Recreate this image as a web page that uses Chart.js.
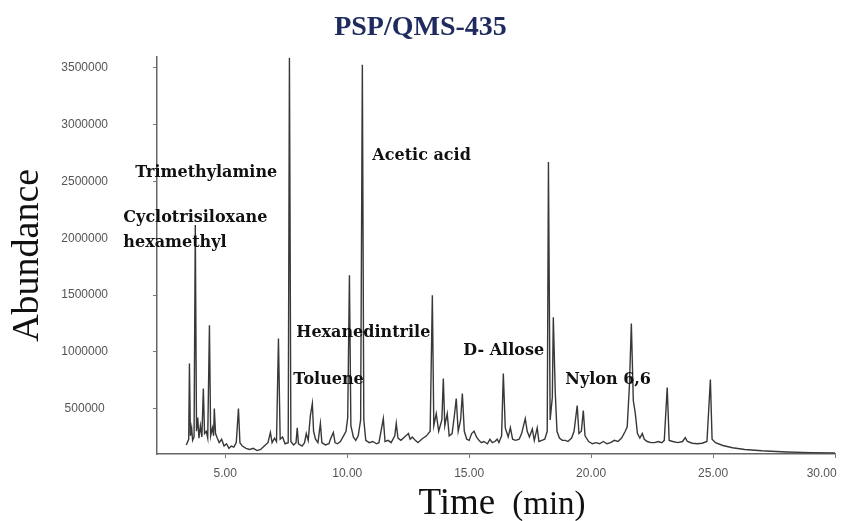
<!DOCTYPE html>
<html>
<head>
<meta charset="utf-8">
<script src="https://cdn.jsdelivr.net/npm/chart.js@4.4.1/dist/chart.umd.min.js"></script>
<style>
  html, body { margin: 0; padding: 0; background: #ffffff; }
  #wrap { width: 841px; height: 521px; }
</style>
</head>
<body>
<div id="wrap"><canvas id="c" width="841" height="521"></canvas></div>
<script>
// ---- Data (retention time in min, abundance) ----
const retentionTime = [
  3.40,3.50,3.53,3.57,3.62,3.66,3.72,3.77,3.82,3.87,
  3.92,3.98,4.04,4.10,4.15,4.22,4.28,4.35,4.40,4.47,
  4.52,4.55,4.60,4.67,4.75,4.85,4.95,5.05,5.15,5.25,
  5.35,5.45,5.54,5.60,5.70,5.85,6.00,6.15,6.30,6.45,
  6.60,6.75,6.85,6.92,7.02,7.10,7.18,7.25,7.35,7.45,
  7.58,7.63,7.69,7.80,7.90,7.95,8.00,8.15,8.25,8.32,
  8.40,8.49,8.57,8.62,8.70,8.80,8.90,8.96,9.10,9.25,
  9.31,9.43,9.50,9.60,9.72,9.85,9.95,10.02,10.09,10.15,
  10.25,10.35,10.45,10.55,10.62,10.68,10.76,10.90,11.05,11.20,
  11.30,11.48,11.55,11.68,11.80,11.95,12.01,12.08,12.20,12.35,
  12.51,12.58,12.67,12.79,12.90,13.05,13.25,13.40,13.49,13.55,
  13.65,13.75,13.88,13.94,14.00,14.10,14.18,14.30,14.40,14.47,
  14.55,14.65,14.72,14.80,14.90,15.00,15.10,15.20,15.30,15.40,
  15.50,15.60,15.75,15.85,15.95,16.05,16.15,16.22,16.33,16.40,
  16.48,16.60,16.69,16.78,16.90,17.05,17.15,17.30,17.38,17.47,
  17.59,17.67,17.79,17.86,17.98,18.10,18.20,18.25,18.32,18.41,
  18.45,18.53,18.60,18.70,18.82,18.95,19.05,19.20,19.30,19.43,
  19.50,19.60,19.68,19.75,19.90,20.05,20.20,20.35,20.50,20.65,
  20.80,20.95,21.10,21.25,21.40,21.48,21.57,21.65,21.73,21.81,
  21.90,22.00,22.10,22.18,22.30,22.45,22.60,22.75,22.90,23.00,
  23.12,23.20,23.35,23.55,23.75,23.86,23.95,24.15,24.35,24.55,
  24.75,24.89,24.96,25.10,25.40,25.80,26.30,27.00,28.00,29.00,30.00
];
const abundance = [
  180000,230000,898000,260000,330000,220000,250000,2116000,300000,420000,
  240000,350000,250000,677000,280000,300000,240000,1233000,260000,330000,
  260000,500000,280000,240000,200000,230000,170000,190000,150000,170000,
  160000,200000,500000,200000,170000,150000,140000,150000,130000,140000,
  170000,200000,290000,200000,240000,210000,1118000,230000,250000,190000,
  200000,3590000,210000,180000,200000,330000,190000,170000,200000,280000,
  220000,440000,545000,300000,230000,200000,370000,200000,180000,190000,
  230000,290000,200000,190000,210000,260000,300000,420000,1674000,350000,
  250000,220000,260000,400000,3528000,400000,220000,200000,210000,190000,
  200000,412000,210000,220000,200000,260000,370000,240000,220000,250000,
  280000,230000,250000,220000,200000,230000,260000,300000,1498000,350000,
  456000,300000,400000,765000,350000,456000,260000,280000,450000,589000,
  300000,400000,633000,300000,230000,220000,280000,300000,250000,220000,
  200000,210000,190000,230000,200000,210000,230000,200000,260000,809000,
  330000,250000,333000,230000,220000,230000,280000,412000,300000,250000,
  320000,220000,330000,210000,220000,230000,300000,2672000,400000,600000,
  1304000,642000,300000,240000,220000,220000,210000,240000,300000,527000,
  280000,300000,483000,260000,210000,190000,200000,190000,210000,190000,
  200000,220000,210000,240000,300000,340000,700000,1250000,571000,460000,
  280000,240000,280000,230000,210000,200000,200000,210000,200000,220000,
  686000,220000,210000,200000,210000,244000,210000,195000,190000,195000,
  210000,756000,230000,200000,175000,155000,140000,128000,118000,112000,110000
];
const xTickValues = [5, 10, 15, 20, 25, 30];
const yTickValues = [500000, 1000000, 1500000, 2000000, 2500000, 3000000, 3500000];

// Peak annotations: text, anchor time (min), anchor abundance
const peakLabels = ["Trimethylamine", "Cyclotrisiloxane", "hexamethyl", "Acetic acid",
                    "Hexanedintrile", "Toluene", "D- Allose", "Nylon 6,6"];
const peakLabelTime = [1.31, 0.82, 0.82, 11.03, 7.91, 7.79, 14.76, 18.94];
const peakLabelAbundance = [2575000, 2177000, 1957000, 2725000, 1171000, 756000, 1012000, 756000];

const chartTitle = "PSP/QMS-435";
const yAxisTitle = "Abundance";
const xAxisTitleMain = "Time";
const xAxisTitleUnit = "(min)";

const points = retentionTime.map((t, i) => ({ x: t, y: abundance[i] }));

const annotationPlugin = {
  id: 'annotations',
  afterDatasetsDraw(chart) {
    const { ctx, scales } = chart;
    const xs = scales.x, ys = scales.y;
    ctx.save();
    ctx.fillStyle = '#111111';
    ctx.font = 'bold 16px "DejaVu Serif"';
    ctx.textAlign = 'left';
    ctx.textBaseline = 'middle';
    peakLabels.forEach((txt, i) => {
      ctx.fillText(txt, xs.getPixelForValue(peakLabelTime[i]), ys.getPixelForValue(peakLabelAbundance[i]));
    });
    ctx.restore();
  },
  afterDraw(chart) {
    const { ctx } = chart;
    ctx.save();
    ctx.fillStyle = '#111111';
    ctx.textBaseline = 'alphabetic';
    ctx.textAlign = 'left';
    const f1 = '37px "Liberation Serif"';
    const f2 = '33px "Liberation Serif"';
    ctx.font = f1;
    const w1 = ctx.measureText(xAxisTitleMain).width;
    ctx.font = f2;
    const w2 = ctx.measureText(xAxisTitleUnit).width;
    const gap = 17;
    const total = w1 + gap + w2;
    const cx = 502;
    const x0 = cx - total / 2;
    const baseY = 514;
    ctx.font = f1;
    ctx.fillText(xAxisTitleMain, x0, baseY);
    ctx.font = f2;
    ctx.fillText(xAxisTitleUnit, x0 + w1 + gap, baseY);
    ctx.restore();
  }
};

new Chart(document.getElementById('c'), {
  type: 'scatter',
  data: {
    datasets: [{
      data: points,
      showLine: true,
      borderColor: '#383838',
      borderWidth: 1.4,
      pointRadius: 0,
      tension: 0,
      fill: false
    }]
  },
  options: {
    responsive: false,
    devicePixelRatio: 1,
    animation: false,
    layout: { padding: { left: 0, right: 0, top: 0, bottom: 0 } },
    plugins: {
      legend: { display: false },
      tooltip: { enabled: false },
      title: {
        display: true,
        text: chartTitle,
        color: '#1f2b5e',
        font: { family: '"Liberation Serif"', size: 28, weight: 'bold' },
        padding: { top: 11, bottom: 12 }
      }
    },
    scales: {
      x: {
        type: 'linear',
        min: 2.2,
        max: 30,
        afterBuildTicks(scale) { scale.ticks = xTickValues.map(v => ({ value: v })); },
        afterFit(scale) { scale.height = 67; scale.paddingRight = 6; scale.paddingLeft = 0; },
        ticks: {
          color: '#555555',
          font: { family: '"Liberation Sans"', size: 12 },
          padding: 8,
          maxRotation: 0,
          autoSkip: false,
          callback(v) {
            const s = Number(v).toFixed(2);
            return v === 30 ? s + '        ' : s;
          }
        },
        grid: { display: true, drawOnChartArea: false, drawTicks: true, tickLength: 4, color: '#777777' },
        border: { display: true, color: '#666666', width: 1.5 }
      },
      y: {
        type: 'linear',
        min: 100000,
        max: 3600000,
        afterBuildTicks(scale) { scale.ticks = yTickValues.map(v => ({ value: v })); },
        afterFit(scale) { scale.width = 157; },
        ticks: {
          color: '#555555',
          font: { family: '"Liberation Sans"', size: 12 },
          padding: 45,
          crossAlign: 'center',
          autoSkip: false,
          callback(v) { return String(v); }
        },
        title: {
          display: true,
          text: yAxisTitle,
          color: '#111111',
          font: { family: '"Liberation Serif"', size: 38, weight: 'normal' },
          padding: { top: 5, bottom: 0 }
        },
        grid: { display: true, drawOnChartArea: false, drawTicks: true, tickLength: 4, color: '#777777' },
        border: { display: true, color: '#666666', width: 1.5 }
      }
    }
  },
  plugins: [annotationPlugin]
});
</script>
</body>
</html>
